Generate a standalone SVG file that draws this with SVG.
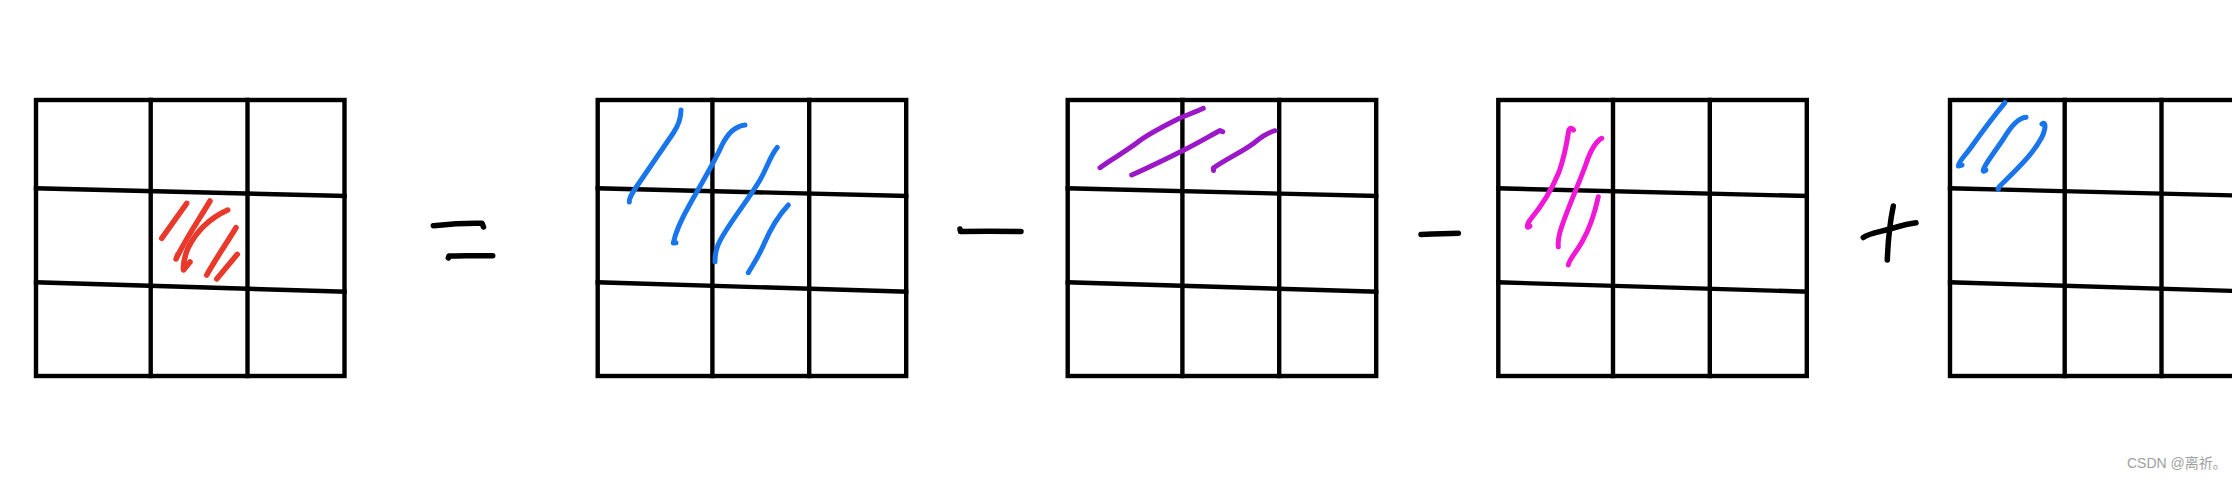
<svg xmlns="http://www.w3.org/2000/svg" xmlns:xlink="http://www.w3.org/1999/xlink" width="2232" height="480" viewBox="0 0 2232 480">
  <style>
    .grid { fill: none; stroke: #000; stroke-width: 4.4; stroke-linecap: square; stroke-linejoin: miter; }
    .op { fill: none; stroke: #000; stroke-width: 5.5; stroke-linecap: round; stroke-linejoin: round; }
    .hatch { fill: none; stroke-width: 5; stroke-linecap: round; stroke-linejoin: round; }
    .red { stroke: #e8392b; stroke-width: 5.5; }
    .blue { stroke: #1875ec; }
    .purple { stroke: #9a18c8; }
    .magenta { stroke: #f018d6; }
    .mark { font-family: "Liberation Sans", "Noto Sans CJK SC", sans-serif; font-size: 14px; fill: #a0a0a0; }
  </style>
  <defs>
    <g id="grid3">
      <rect class="grid" x="0" y="0" width="308.5" height="276"/>
      <line class="grid" x1="114.7" y1="0" x2="114.7" y2="276"/>
      <line class="grid" x1="211.5" y1="0" x2="211.5" y2="276"/>
      <line class="grid" x1="0" y1="88.3" x2="308.5" y2="96"/>
      <line class="grid" x1="0" y1="182.3" x2="308.5" y2="191.7"/>
    </g>
  </defs>
  <rect x="0" y="0" width="2232" height="480" fill="#fff"/>

  <g id="grid-target">
    <use xlink:href="#grid3" href="#grid3" x="36" y="100"/>
    <g class="hatch red">
      <path d="M186.7,203.3 L161.7,238.3"/>
      <path d="M210,201 C200,218 186,238 176,259 L178,254"/>
      <path d="M227.7,210 C210,218 196,232 188,248 C184,258 183,265 183.5,270 L190,262"/>
      <path d="M236,227.7 C226,244 215,260 206.7,275"/>
      <path d="M237.3,254.3 L216.7,279"/>
    </g>
  </g>

  <g id="op-equals">
    <path class="op" d="M433.3,225.7 C450,224 468,223 482,223.3 L483.5,227"/>
    <path class="op" d="M448.3,258 L449,256 C463,256 478,255.5 492.7,255.7"/>
  </g>

  <g id="grid-a">
    <use xlink:href="#grid3" href="#grid3" x="597.7" y="100"/>
    <g class="hatch blue">
      <path d="M681,110 C681,118 678,126 673.3,133 L637,186 C632,193 629,198 629.3,202"/>
      <path d="M745,125 C735,126 728,133 722,145 C714,163 700,186 690,204 C682,218 676,230 673.3,243 L676,242.7"/>
      <path d="M777.3,147.3 C770,156 767,168 760,180 C745,205 725,228 718,245 C715,252 715,258 715,261.7"/>
      <path d="M788.3,205 C778,216 770,230 764,244 C758,258 752,266 748.3,272.7"/>
    </g>
  </g>

  <g id="op-minus-1">
    <path class="op" d="M960,229 L960.5,231.5 C980,231 1000,231 1021,231.5"/>
  </g>

  <g id="grid-b">
    <use xlink:href="#grid3" href="#grid3" x="1067.7" y="100"/>
    <g class="hatch purple">
      <path d="M1203.3,108.3 C1196,112 1186,115 1178,119 C1160,128 1148,134 1138,142 C1125,152 1110,160 1100,167.7"/>
      <path d="M1222.7,131.7 L1220,130.5 C1208,137 1196,144 1184,150 C1168,158 1150,167 1131.7,175"/>
      <path d="M1275,130.7 C1266,133 1260,138 1254,143 C1242,152 1228,158 1213.3,168 L1213.5,170.5"/>
    </g>
  </g>

  <g id="op-minus-2">
    <path class="op" d="M1421,234.5 C1433,234 1446,233.5 1458.3,233.3"/>
  </g>

  <g id="grid-c">
    <use xlink:href="#grid3" href="#grid3" x="1498.3" y="100"/>
    <g class="hatch magenta">
      <path d="M1573.5,130 C1571.5,127 1569,128 1568.5,132 C1566,148 1564,158 1559,172 C1550,194 1540,208 1530,220 C1526,226 1527,229 1530,226"/>
      <path d="M1601.7,138.3 C1595,142 1590,152 1586,164 C1578,186 1566,212 1560,232 C1558,240 1558,244 1558.3,246.7"/>
      <path d="M1598.3,196.7 C1595,212 1590,228 1582,242 C1575,254 1569,260 1568.3,265"/>
    </g>
  </g>

  <g id="op-plus">
    <path class="op" d="M1863.3,237.5 C1870,233 1880,232 1890,229 C1900,226 1908,223.5 1916,222.7"/>
    <path class="op" d="M1893.3,206 C1890,222 1888,240 1887.3,260"/>
  </g>

  <g id="grid-d">
    <use xlink:href="#grid3" href="#grid3" x="1950" y="100"/>
    <g class="hatch blue">
      <path d="M2005,102.7 C1994,116 1982,132 1972,146 C1965,156 1958,162 1958.3,166 L1962,165"/>
      <path d="M2026,117.3 C2018,118 2010,128 2004,138 C1996,150 1988,160 1984,168 C1982,172 1984,172 1986,170"/>
      <path d="M2042,124 C2046,121 2046,128 2042,137 C2034,152 2022,164 2010,176 C2002,184 1997,188 1998.3,189.3"/>
    </g>
  </g>

  <g id="watermark">
    <text class="mark" x="2127" y="468">CSDN @离祈。</text>
  </g>
</svg>
